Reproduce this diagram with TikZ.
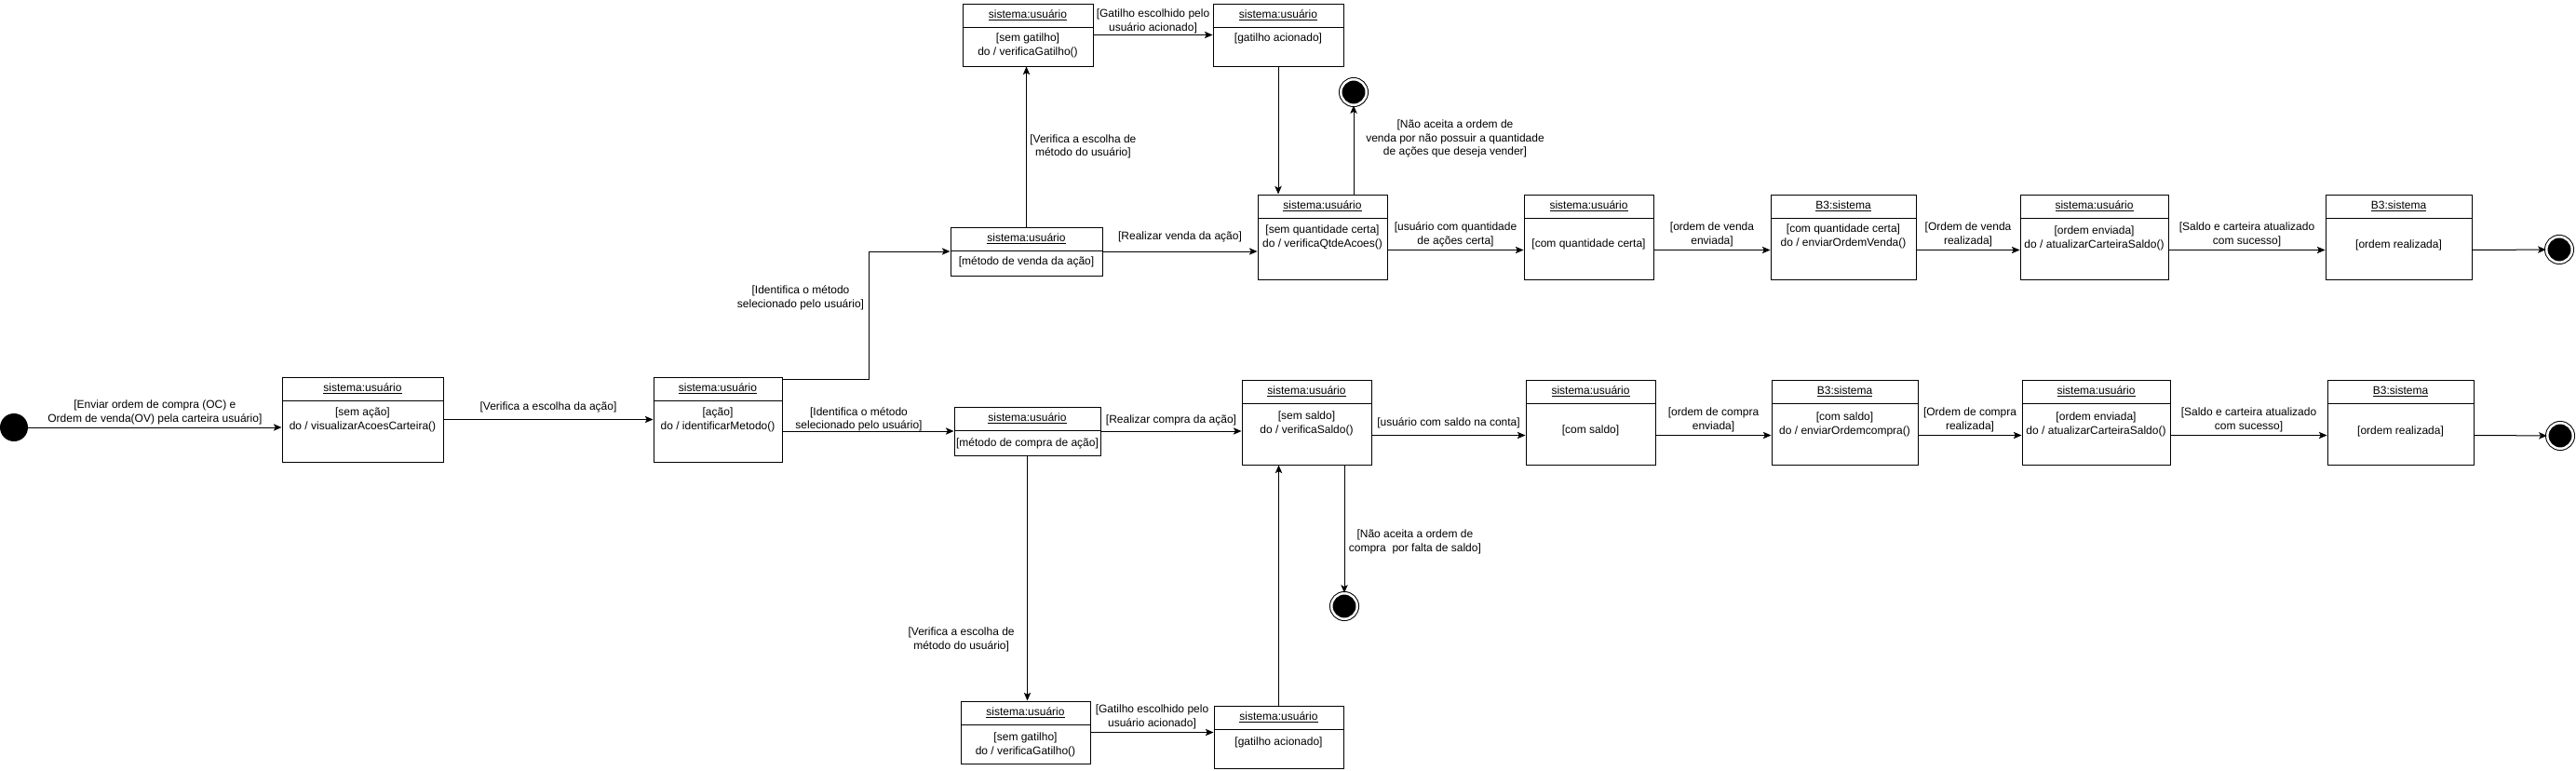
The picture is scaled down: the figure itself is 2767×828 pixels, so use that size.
\documentclass[tikz,border=0pt]{standalone}
\usepackage{fontspec}
\setmainfont{Liberation Sans}
\usetikzlibrary{
    arrows.meta,
    calc,
}

\newlength{\pxu}
\setlength{\pxu}{0.75pt}

% caixa de estado: nome, x, y (canto sup. esq.), largura, altura, cabecalho, corpo, deslocamento do corpo
\newcommand{\estado}[8]{%
    \node[caixa, minimum width=#4*\pxu, minimum height=#5*\pxu] (#1) at ({#2+#4/2},{#3+#5/2}) {};
    \draw[fina] ([yshift=-26*\pxu]#1.north west) -- ([yshift=-26*\pxu]#1.north east);
    \node[texto] (#1-cab) at ([yshift=-13*\pxu]#1.north) {\underline{#6}};
    \node[texto, anchor=north] (#1-corpo) at ([yshift=-(20+#8)*\pxu]#1.north) {#7};
}

\begin{document}
\begin{tikzpicture}[x=0.75pt, y=-0.75pt,
    fina/.style = {line width=\pxu},
    caixa/.style = {draw, rectangle, inner sep=0pt, line width=\pxu},
    texto/.style = {inner sep=0pt, align=center, font=\fontsize{9pt}{11pt}\selectfont},
    rotulo/.style = {inner sep=1pt, align=center, font=\fontsize{9pt}{11pt}\selectfont},
    seta/.style = {-{Stealth[length=6.5pt, width=5.5pt, inset=1.5pt]}, line width=\pxu},
    inicio/.style = {circle, fill=black, inner sep=0pt, minimum size=30*\pxu},
    fim/.style = {circle, fill=black, draw=black, double=white, double distance=2.5*\pxu,
                  line width=\pxu, inner sep=0pt, minimum size=27.5*\pxu}]
    \useasboundingbox (0,0) rectangle (2767,828);

    % estados
    \node[inicio] (ini) at (15,459) {};
    \estado{carteira}{303}{405}{173}{91}{sistema:usuário}{[sem ação]\\do / visualizarAcoesCarteira()}{13}
    \estado{ident}{702}{405}{138}{91}{sistema:usuário}{[ação]\\do / identificarMetodo()}{13}

    % ramo de venda
    \estado{venda}{1021}{244}{163}{52}{sistema:usuário}{[método de venda da ação]}{12}
    \estado{semgat}{1034}{4}{140}{67}{sistema:usuário}{[sem gatilho]\\do / verificaGatilho()}{12}
    \estado{acionado}{1303}{4}{140}{67}{sistema:usuário}{[gatilho acionado]}{12}
    \estado{qtde}{1351}{209}{139}{91}{sistema:usuário}{[sem quantidade certa]\\do / verificaQtdeAcoes()}{13}
    \estado{comqtd}{1637}{209}{139}{91}{sistema:usuário}{[com quantidade certa]}{28}
    \estado{b3v}{1902}{209}{156}{91}{B3:sistema}{[com quantidade certa]\\do / enviarOrdemVenda()}{12}
    \estado{atualv}{2170}{209}{159}{91}{sistema:usuário}{[ordem enviada]\\do / atualizarCarteiraSaldo()}{14}
    \estado{realv}{2498}{209}{157}{91}{B3:sistema}{[ordem realizada]}{29}
    \node[fim] (fimA) at (1454,99) {};
    \node[fim] (fimB) at (2749,268) {};

    % ramo de compra
    \estado{compra}{1025}{437}{157}{52}{sistema:usuário}{[método de compra de ação]}{14}
    \estado{saldo}{1334}{408}{139}{91}{sistema:usuário}{[sem saldo]\\do / verificaSaldo()}{14}
    \estado{comsaldo}{1639}{408}{139}{91}{sistema:usuário}{[com saldo]}{29}
    \estado{b3c}{1903}{408}{157}{91}{B3:sistema}{[com saldo]\\do / enviarOrdemcompra()}{15}
    \estado{atualc}{2172}{408}{159}{91}{sistema:usuário}{[ordem enviada]\\do / atualizarCarteiraSaldo()}{15}
    \estado{realc}{2500}{408}{157}{91}{B3:sistema}{[ordem realizada]}{30}
    \estado{semgatB}{1032}{753}{139}{67}{sistema:usuário}{[sem gatilho]\\do / verificaGatilho()}{14}
    \estado{acionadoB}{1304}{758}{139}{67}{sistema:usuário}{[gatilho acionado]}{14}
    \node[fim] (fimC) at (2750,468) {};
    \node[fim] (fimD) at (1444,651) {};

    % transicoes
    \draw[seta] (ini) -- (ini -| carteira.west)
        node[rotulo, midway, above, yshift=1.5*\pxu] {[Enviar ordem de compra (OC) e\\Ordem de venda(OV) pela carteira usuário]};
    \draw[seta] (carteira) -- (ident)
        node[rotulo, midway, above, yshift=6*\pxu] {[Verifica a escolha da ação]};
    \draw[seta] ([yshift=-3*\pxu]ident.north east) -- ++(93,0) |- (venda.west)
        node[rotulo] at (860,320) {[Identifica o método\\selecionado pelo usuário]};
    \draw[seta] (ident.east |- compra) -- (compra)
        node[rotulo, midway, above, xshift=-10*\pxu, yshift=-2*\pxu] {[Identifica o método\\selecionado pelo usuário]};

    \draw[seta] (venda) -- (venda -| qtde.west)
        node[rotulo, midway, above, yshift=8*\pxu] {[Realizar venda da ação]};
    \draw[seta] (venda) -- (venda |- semgat.south)
        node[rotulo, midway, right, xshift=2*\pxu] {[Verifica a escolha de\\método do usuário]};
    \draw[seta] (semgat) -- (acionado)
        node[rotulo, midway, above] {[Gatilho escolhido pelo\\usuário acionado]};
    \draw[seta] (acionado) -- (acionado |- qtde.north);
    \draw[seta] (fimA |- qtde.north) -- (fimA)
        node[rotulo] at (1563,149) {[Não aceita a ordem de\\venda por não possuir a quantidade\\de ações que deseja vender]};
    \draw[seta] ([yshift=-14*\pxu]qtde.east) -- ([yshift=-14*\pxu]comqtd.west)
        node[rotulo, midway, above, yshift=2*\pxu] {[usuário com quantidade\\de ações certa]};
    \draw[seta] ([yshift=-14*\pxu]comqtd.east) -- ([yshift=-14*\pxu]b3v.west)
        node[rotulo, midway, above, yshift=2*\pxu] {[ordem de venda\\enviada]};
    \draw[seta] ([yshift=-14*\pxu]b3v.east) -- ([yshift=-14*\pxu]atualv.west)
        node[rotulo, midway, above, yshift=2*\pxu] {[Ordem de venda\\realizada]};
    \draw[seta] ([yshift=-14*\pxu]atualv.east) -- ([yshift=-14*\pxu]realv.west)
        node[rotulo, midway, above, yshift=2*\pxu] {[Saldo e carteira atualizado\\com sucesso]};
    \draw[seta] ([yshift=-14*\pxu]realv.east) -- (fimB);

    \draw[seta] (compra) -- (compra -| saldo.west)
        node[rotulo, midway, above, yshift=4*\pxu] {[Realizar compra da ação]};
    \draw[seta] (compra) -- (compra |- semgatB.north)
        node[rotulo, pos=0.75, left, xshift=-12*\pxu] {[Verifica a escolha de\\método do usuário]};
    \draw[seta] (semgatB) -- (semgatB -| acionadoB.west)
        node[rotulo, midway, above, yshift=2*\pxu] {[Gatilho escolhido pelo\\usuário acionado]};
    \draw[seta] (acionadoB) -- (acionadoB |- saldo.south);
    \draw[seta] (fimD |- saldo.south) -- (fimD)
        node[rotulo, anchor=west] at (1447,582) {[Não aceita a ordem de\\compra\ \ por falta de saldo]};
    \draw[seta] ([yshift=-14*\pxu]saldo.east) -- ([yshift=-14*\pxu]comsaldo.west)
        node[rotulo, midway, above, yshift=6*\pxu] {[usuário com saldo na conta]};
    \draw[seta] ([yshift=-14*\pxu]comsaldo.east) -- ([yshift=-14*\pxu]b3c.west)
        node[rotulo, midway, above, yshift=2*\pxu] {[ordem de compra\\enviada]};
    \draw[seta] ([yshift=-14*\pxu]b3c.east) -- ([yshift=-14*\pxu]atualc.west)
        node[rotulo, midway, above, yshift=2*\pxu] {[Ordem de compra\\realizada]};
    \draw[seta] ([yshift=-14*\pxu]atualc.east) -- ([yshift=-14*\pxu]realc.west)
        node[rotulo, midway, above, yshift=2*\pxu] {[Saldo e carteira atualizado\\com sucesso]};
    \draw[seta] ([yshift=-14*\pxu]realc.east) -- (fimC);
\end{tikzpicture}
\end{document}
